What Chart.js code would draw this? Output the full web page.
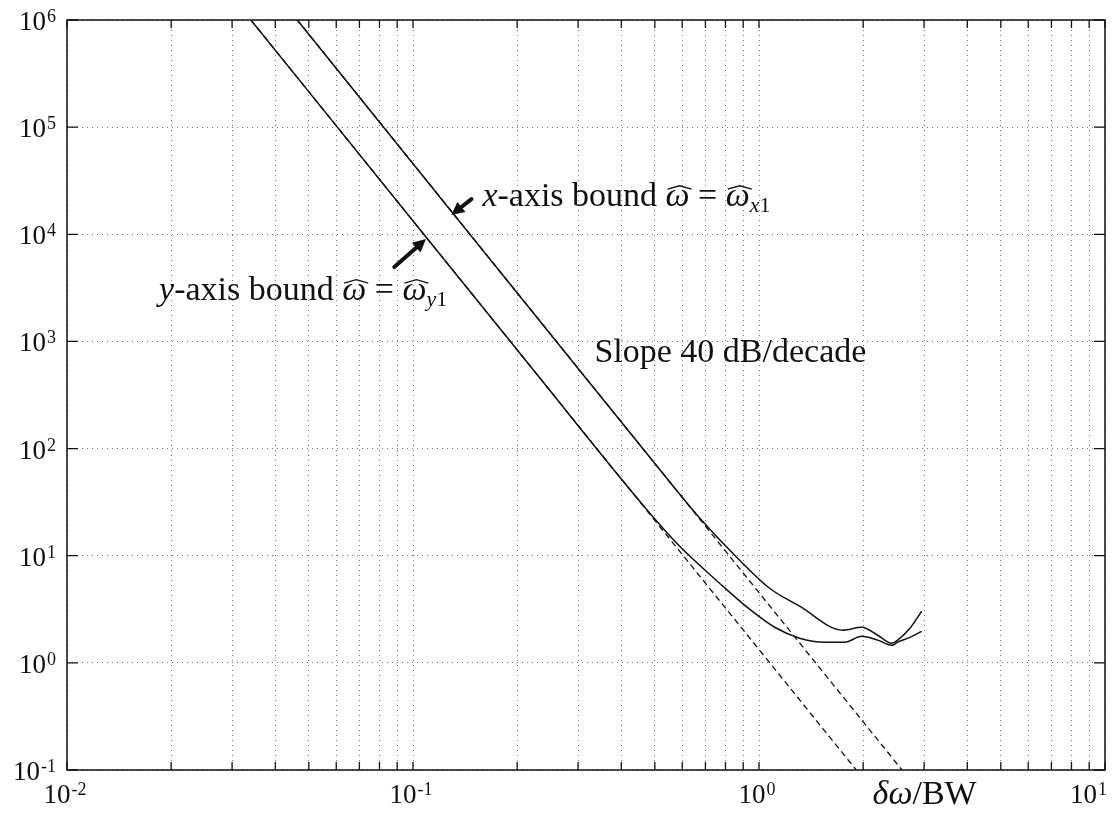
<!DOCTYPE html>
<html>
<head>
<meta charset="utf-8">
<script src="https://cdn.jsdelivr.net/npm/chart.js@4.4.1/dist/chart.umd.min.js"></script>
<style>
	html, body { margin: 0; padding: 0; background: #fff; }
	#wrap { width: 1120px; height: 814px; }
</style>
</head>
<body>
<div id="wrap"><canvas id="chart"></canvas></div>
<script>
// axis decades and their exponent labels
const xDecades = [0.01, 0.1, 1, 10];
const xExponents = ['-2', '-1', '0', '1'];
const yDecades = [0.1, 1, 10, 100, 1e3, 1e4, 1e5, 1e6];
const yExponents = ['-1', '0', '1', '2', '3', '4', '5', '6'];
const minorSteps = [2, 3, 4, 5, 6, 7, 8, 9];

// x-axis bound (upper solid curve)
const xBoundX = [0.0463, 0.13, 0.30, 0.55, 0.682, 0.879, 1.073, 1.31, 1.745, 1.981, 2.203, 2.419, 2.517, 2.73, 2.953];
const xBoundY = [1e6, 15900, 560, 49.6, 21.5, 9.08, 4.97, 3.38, 2.02, 2.15, 1.81, 1.52, 1.63, 2.10, 3.03];

// y-axis bound (lower solid curve)
const yBoundX = [0.034, 0.109, 0.232, 0.40, 0.50, 0.589, 0.769, 0.939, 1.110, 1.31, 1.548, 1.769, 1.981, 2.203, 2.419, 2.517, 2.73, 2.953];
const yBoundY = [1e6, 9450, 460, 52, 22, 12.3, 5.54, 3.17, 2.15, 1.70, 1.56, 1.56, 1.77, 1.63, 1.46, 1.56, 1.73, 1.97];

// 40 dB/decade asymptotes (dashed)
const asymXX = [0.0463, 2.59];
const asymXY = [1e6, 0.1];
const asymYX = [0.034, 1.91];
const asymYY = [1e6, 0.1];

const FONT = '"Liberation Serif", "Times New Roman", serif';
const INK = '#111';

const xGrid = xDecades.slice(0, -1).flatMap(d => [d, ...minorSteps.map(m => m * d)]).concat(xDecades.slice(-1));
const pts = (xs, ys) => xs.map((x, i) => ({ x, y: ys[i] }));

function power(ctx, exp, px, base, align){
	ctx.font = `27px ${FONT}`;
	const w1 = ctx.measureText('10').width;
	ctx.font = `18px ${FONT}`;
	const w2 = ctx.measureText(exp).width;
	const w = w1 + w2 + 1;
	const left = align === 'right' ? px - w : align === 'center' ? px - w / 2 : px;
	ctx.font = `27px ${FONT}`;
	ctx.fillText('10', left, base);
	ctx.font = `18px ${FONT}`;
	ctx.fillText(exp, left + w1 + 1, base - 8);
}

function rich(ctx, parts, left, base){
	let x = left;
	parts.forEach(p => {
		const size = p.s || 34;
		ctx.font = `${p.i ? 'italic ' : ''}${size}px ${FONT}`;
		const y = base + (p.dy || 0);
		ctx.fillText(p.t, x, y);
		const w = ctx.measureText(p.t).width;
		if(p.hat){
			ctx.save();
			ctx.lineWidth = 1.3;
			ctx.beginPath();
			ctx.moveTo(x + 2, y - size * 0.5);
			ctx.lineTo(x + w / 2 + 2, y - size * 0.6);
			ctx.lineTo(x + w + 2, y - size * 0.5);
			ctx.stroke();
			ctx.restore();
		}
		x += w;
	});
}

function arrow(ctx, x0, y0, x1, y1){
	const ang = Math.atan2(y1 - y0, x1 - x0);
	const head = 13, hw = 6.5;
	const bx = x1 - head * Math.cos(ang), by = y1 - head * Math.sin(ang);
	ctx.save();
	ctx.lineWidth = 4;
	ctx.lineCap = 'round';
	ctx.beginPath();
	ctx.moveTo(x0, y0); ctx.lineTo(bx, by);
	ctx.stroke();
	ctx.beginPath();
	ctx.moveTo(x1, y1);
	ctx.lineTo(bx + hw * Math.sin(ang), by - hw * Math.cos(ang));
	ctx.lineTo(bx - hw * Math.sin(ang), by + hw * Math.cos(ang));
	ctx.closePath();
	ctx.fill();
	ctx.restore();
}

const decor = {
	id: 'decor',
	afterDraw(chart){
		const { ctx, chartArea: a, scales: { x, y } } = chart;
		const X = v => x.getPixelForValue(v), Y = v => y.getPixelForValue(v);
		ctx.save();
		ctx.strokeStyle = INK; ctx.fillStyle = INK;
		ctx.lineWidth = 1.5;
		ctx.strokeRect(a.left, a.top, a.right - a.left, a.bottom - a.top);

		// inward tick marks
		ctx.lineWidth = 1.3;
		ctx.beginPath();
		xGrid.forEach(v => {
			const px = X(v);
			ctx.moveTo(px, a.bottom); ctx.lineTo(px, a.bottom - 8);
			ctx.moveTo(px, a.top); ctx.lineTo(px, a.top + 8);
		});
		yDecades.forEach(v => {
			const py = Y(v);
			ctx.moveTo(a.left, py); ctx.lineTo(a.left + 11, py);
			ctx.moveTo(a.right, py); ctx.lineTo(a.right - 11, py);
		});
		ctx.stroke();

		// tick labels
		ctx.textAlign = 'left'; ctx.textBaseline = 'alphabetic';
		yDecades.forEach((v, i) => power(ctx, yExponents[i], a.left - 11, Y(v) + 10, 'right'));
		xDecades.forEach((v, i) => {
			const last = i === xDecades.length - 1;
			power(ctx, xExponents[i], last ? a.right + 2 : X(v) - 2, a.bottom + 33, last ? 'right' : 'center');
		});

		// annotations
		rich(ctx, [
			{ t: 'x', i: true }, { t: '-axis bound ' }, { t: 'ω', i: true, hat: true }, { t: ' = ' },
			{ t: 'ω', i: true, hat: true }, { t: 'x', i: true, s: 22, dy: 6 }, { t: '1', s: 22, dy: 6 }
		], X(0.1587), Y(18300));
		rich(ctx, [
			{ t: 'y', i: true }, { t: '-axis bound ' }, { t: 'ω', i: true, hat: true }, { t: ' = ' },
			{ t: 'ω', i: true, hat: true }, { t: 'y', i: true, s: 22, dy: 6 }, { t: '1', s: 22, dy: 6 }
		], X(0.01845), Y(2430));
		rich(ctx, [{ t: 'Slope 40 dB/decade' }], X(0.3344), Y(641));
		rich(ctx, [{ t: 'δω', i: true }, { t: '/BW' }], X(2.13), a.bottom + 34);

		arrow(ctx, X(0.1475), Y(21300), X(0.129), Y(15100));
		arrow(ctx, X(0.0883), Y(4940), X(0.109), Y(9020));
		ctx.restore();
	}
};

const solid = { borderColor: INK, borderWidth: 1.5, pointRadius: 0, fill: false, cubicInterpolationMode: 'monotone' };
const dashed = { borderColor: INK, borderWidth: 1.3, pointRadius: 0, fill: false, borderDash: [6, 4], tension: 0 };

new Chart(document.getElementById('chart'), {
	type: 'line',
	data: {
		datasets: [
			{ label: 'x-axis bound', data: pts(xBoundX, xBoundY), ...solid },
			{ label: 'y-axis bound', data: pts(yBoundX, yBoundY), ...solid },
			{ label: 'x asymptote', data: pts(asymXX, asymXY), ...dashed },
			{ label: 'y asymptote', data: pts(asymYX, asymYY), ...dashed }
		]
	},
	options: {
		responsive: true,
		maintainAspectRatio: false,
		animation: false,
		layout: { padding: { left: 67, right: 15, top: 20, bottom: 44 } },
		plugins: { legend: { display: false }, tooltip: { enabled: false } },
		scales: {
			x: {
				type: 'logarithmic', min: 0.01, max: 10,
				afterBuildTicks: s => { s.ticks = xGrid.map(v => ({ value: v })); },
				ticks: { display: false },
				grid: { drawTicks: false, color: '#777', lineWidth: 1 },
				border: { display: false, dash: [1, 4] }
			},
			y: {
				type: 'logarithmic', min: 0.1, max: 1e6,
				afterBuildTicks: s => { s.ticks = yDecades.map(v => ({ value: v })); },
				ticks: { display: false },
				grid: { drawTicks: false, color: '#777', lineWidth: 1 },
				border: { display: false, dash: [1, 4] }
			}
		}
	},
	plugins: [decor]
});
</script>
</body>
</html>
